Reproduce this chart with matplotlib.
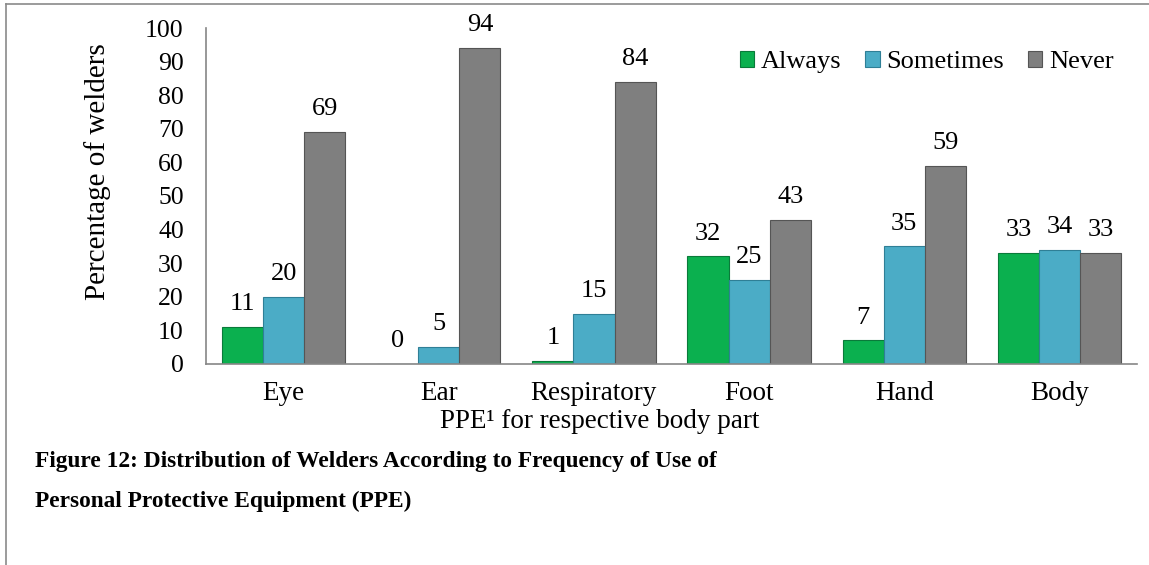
import matplotlib.pyplot as plt
import numpy as np

parts = ['Eye', 'Ear', 'Respiratory', 'Foot', 'Hand', 'Body']
always = [11, 0, 1, 32, 7, 33]
sometimes = [20, 5, 15, 25, 35, 34]
never = [69, 94, 84, 43, 59, 33]

plt.rcParams['font.family'] = ['Liberation Serif', 'DejaVu Serif']

fig = plt.figure(figsize=(11.49, 5.65), dpi=100)
ax = fig.add_axes([0.1793, 0.3558, 0.8103, 0.5946])

x = np.arange(len(parts))
w = 0.265
series = [(always, 'Always', '#0bb04f', '#0a7a3a'),
          (sometimes, 'Sometimes', '#4bacc6', '#2f7f96'),
          (never, 'Never', '#7f7f7f', '#555555')]

for i, (vals, name, col, edge) in enumerate(series):
    pos = x + (i - 1) * w
    ax.bar(pos, vals, w, color=col, edgecolor=edge, linewidth=0.8, label=name)
    for xp, v in zip(pos, vals):
        ax.annotate(str(v), (xp, v), xytext=(0, 8.5), textcoords='offset points',
                    ha='center', va='bottom', fontsize=19)

ax.set_xlim(-0.5, len(parts) - 0.5)
ax.set_ylim(0, 100)
ax.set_yticks(range(0, 101, 10))
ax.set_xticks(x)
ax.set_xticklabels(parts)
ax.tick_params(axis='both', length=0)
ax.tick_params(axis='y', pad=16, labelsize=18.5)
ax.tick_params(axis='x', pad=12, labelsize=19.5)
for s in ['top', 'right']:
    ax.spines[s].set_visible(False)
for s in ['left', 'bottom']:
    ax.spines[s].set_color('#868686')
    ax.spines[s].set_linewidth(1.2)

ax.set_ylabel('Percentage of welders', fontsize=21)
ax.yaxis.set_label_coords(-0.102, 0.574)
ax.set_xlabel('PPE¹ for respective body part', fontsize=19.5)
ax.xaxis.set_label_coords(0.423, -0.135)

ax.legend(loc='center right', bbox_to_anchor=(0.969, 0.89), bbox_transform=fig.transFigure,
          ncol=3, frameon=False, fontsize=19, handlelength=0.55, handleheight=0.55,
          handletextpad=0.25, columnspacing=0.9, borderpad=0, borderaxespad=0)

fig.text(0.0305, 0.183, 'Figure 12: Distribution of Welders According to Frequency of Use of',
         fontsize=16.8, fontweight='bold', ha='left', va='center')
fig.text(0.0305, 0.112, 'Personal Protective Equipment (PPE)',
         fontsize=16.8, fontweight='bold', ha='left', va='center')

# page border lines (top and left)
fig.add_artist(plt.Line2D([0.005, 1.0], [0.993, 0.993], color='#8a8a8a', lw=1.2))
fig.add_artist(plt.Line2D([0.005, 0.005], [0.0, 0.993], color='#8a8a8a', lw=1.2))

fig.savefig('out.png', dpi=100)
